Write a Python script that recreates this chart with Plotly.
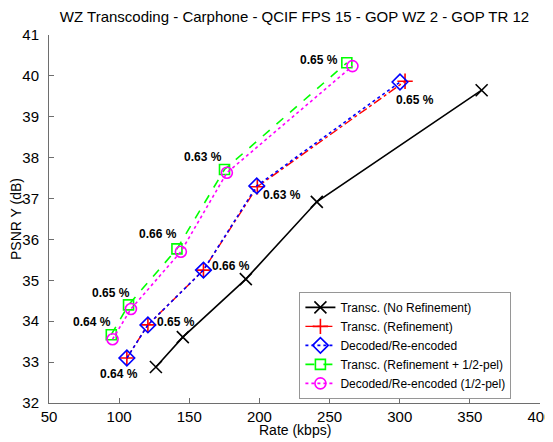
import plotly.graph_objects as go

# rate (kbps) / PSNR Y (dB)
rate_norefine = [126.2, 145.4, 190.3, 240.9, 358.4]
psnr_norefine = [32.88, 33.61, 35.03, 36.92, 39.65]

rate_refine = [105.5, 120.5, 160.1, 198.5, 303.8]
psnr_refine = [33.10, 33.91, 35.25, 37.29, 39.87]

rate_dec = [105.5, 120.5, 160.1, 198.1, 300.2]
psnr_dec = [33.10, 33.91, 35.25, 37.31, 39.85]

rate_half = [94.4, 106.7, 141.2, 175.1, 262.3]
psnr_half = [33.67, 34.40, 35.77, 37.71, 40.32]

rate_dec_half = [95.3, 108.4, 144.0, 176.8, 266.3]
psnr_dec_half = [33.56, 34.30, 35.70, 37.63, 40.24]

labels_dec = ['0.64 %', '0.65 %', '0.66 %', '0.63 %', '0.65 %']
labels_half = ['0.64 %', '0.65 %', '0.66 %', '0.63 %', '0.65 %']

font_name = 'Liberation Sans, Arial, sans-serif'
axis_color = 'rgb(110, 110, 110)'

fig = go.Figure()

fig.add_trace(go.Scatter(x=rate_norefine, y=psnr_norefine,
                         mode='lines+markers',
                         name='Transc. (No Refinement)',
                         line=dict(color='black', width=1.6),
                         marker=dict(symbol='x-thin-open', size=12,
                                     line=dict(color='black', width=1.6))))
fig.add_trace(go.Scatter(x=rate_refine, y=psnr_refine,
                         mode='lines+markers',
                         name='Transc. (Refinement)',
                         line=dict(color='red', width=1.4, dash='dashdot'),
                         marker=dict(symbol='cross-thin-open', size=11,
                                     line=dict(color='red', width=1.6))))
fig.add_trace(go.Scatter(x=rate_dec, y=psnr_dec,
                         mode='lines+markers',
                         name='Decoded/Re-encoded',
                         line=dict(color='blue', width=1.6, dash='dot'),
                         marker=dict(symbol='diamond-open', size=12,
                                     line=dict(color='blue', width=1.6))))
fig.add_trace(go.Scatter(x=rate_half, y=psnr_half,
                         mode='lines+markers',
                         name='Transc. (Refinement + 1/2-pel)',
                         line=dict(color='rgb(0, 255, 0)', width=1.6, dash='dash'),
                         marker=dict(symbol='square-open', size=10,
                                     line=dict(color='rgb(0, 255, 0)', width=1.6))))
fig.add_trace(go.Scatter(x=rate_dec_half, y=psnr_dec_half,
                         mode='lines+markers',
                         name='Decoded/Re-encoded (1/2-pel)',
                         line=dict(color='magenta', width=1.6, dash='dot'),
                         marker=dict(symbol='circle-open', size=11,
                                     line=dict(color='magenta', width=1.6))))

# percentage labels, shifted in pixels from their points
shifts_dec = [(-8, -16), (28, 3), (28, 4), (25, -9), (15, -18)]
shifts_half = [(-19, 13), (-18, 12), (-19, 15), (-22, 13), (-28, 3)]

annots = []
for xs, ys, labs, shifts in [(rate_dec, psnr_dec, labels_dec, shifts_dec),
                             (rate_half, psnr_half, labels_half, shifts_half)]:
    for x, y, t, (dx, dy) in zip(xs, ys, labs, shifts):
        annots.append(dict(x=x, y=y, text='<b>' + t + '</b>', showarrow=False,
                           xshift=dx, yshift=dy,
                           font=dict(family=font_name, size=12, color='black')))

# x axis title as an annotation, sits closer to the tick labels like the original
annots.append(dict(x=0.5, y=0, xref='paper', yref='paper', text='Rate (kbps)',
                   showarrow=False, yanchor='middle', yshift=-27,
                   font=dict(family=font_name, size=14, color='black')))

# the page body has an 8px margin, so the figure is offset by 8px
fig.update_layout(
    width=553, height=434,
    autosize=False,
    margin=dict(l=41, r=21, t=27, b=39, pad=0, autoexpand=False),
    paper_bgcolor='white', plot_bgcolor='white',
    font=dict(family=font_name, size=15, color='black'),
    title=dict(text='WZ Transcoding - Carphone - QCIF FPS 15 - GOP WZ 2 - GOP TR 12',
               xref='paper', x=0.5, xanchor='center', y=1 - 9 / 434, yanchor='middle',
               font=dict(size=15), automargin=False),
    showlegend=True,
    legend=dict(x=0.51, xanchor='left', y=0.302, yanchor='top',
                bgcolor='white', bordercolor='rgb(150, 150, 150)', borderwidth=1,
                font=dict(size=12), tracegroupgap=0),
    annotations=annots,
)

fig.update_xaxes(range=[50, 400], dtick=50, tick0=50, automargin=False,
                 showgrid=False, zeroline=False,
                 showline=True, linecolor=axis_color, linewidth=1,
                 ticks='inside', ticklen=5, tickcolor=axis_color)
fig.update_yaxes(range=[32, 41], dtick=1, tick0=32, automargin=False,
                 showgrid=False, zeroline=False,
                 showline=True, linecolor=axis_color, linewidth=1,
                 ticks='inside', ticklen=5, tickcolor=axis_color,
                 ticklabelstandoff=6,
                 title=dict(text='PSNR Y (dB)', standoff=0, font=dict(size=14)))

fig.write_html('out.html')
